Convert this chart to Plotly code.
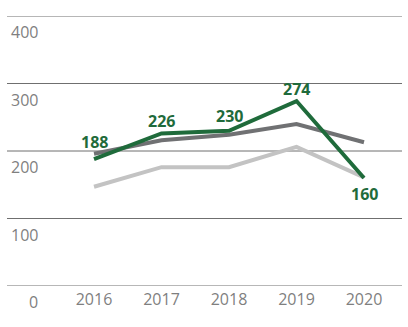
import plotly.graph_objects as go

years = [2016, 2017, 2018, 2019, 2020]
green_vals = [188, 226, 230, 274, 160]
dark_vals = [196, 216, 224, 240, 213]
light_vals = [147, 176, 176, 206, 161]
green_labels = ["188", "226", "230", "274", "160"]
y_ticks = [0, 100, 200, 300, 400]
y_tick_labels = ["0", "100", "200", "300", "400"]

GREEN = "#1f6b3b"
DARK = "#707173"
LIGHT = "#c3c3c3"
TXT = "#7f7f7f"

fig = go.Figure()
fig.add_trace(go.Scatter(x=years, y=light_vals, mode="lines",
                         line=dict(color=LIGHT, width=4), hoverinfo="skip"))
fig.add_trace(go.Scatter(x=years, y=dark_vals, mode="lines",
                         line=dict(color=DARK, width=4), hoverinfo="skip"))
fig.add_trace(go.Scatter(x=years, y=green_vals, mode="lines",
                         line=dict(color=GREEN, width=4), hoverinfo="skip"))

# data labels
label_shifts = [17, 12, 15, 12, -16]
for x, v, t, s in zip(years, green_vals, green_labels, label_shifts):
    fig.add_annotation(x=x, y=v, text="<b>%s</b>" % t, showarrow=False,
                       yshift=s,
                       font=dict(family="Open Sans", size=16, color=GREEN))

plot_w = 408 - 7 - 6
# gridlines
for v in y_ticks:
    fig.add_shape(type="line", xref="paper", yref="y", x0=0, x1=1, y0=v, y1=v,
                  line=dict(color="#6f6f6f", width=1), layer="below")

# y tick labels below gridlines, right-aligned
for v, t in zip(y_ticks, y_tick_labels):
    fig.add_annotation(x=(40 - 7) / plot_w, xref="paper", y=v, yref="y", text=t,
                       showarrow=False, xanchor="right", yanchor="top",
                       yshift=-3,
                       font=dict(family="Open Sans", size=16, color=TXT))

fig.update_layout(
    width=408, height=327,
    margin=dict(l=7, r=6, t=16, b=41),
    paper_bgcolor="white", plot_bgcolor="white",
    showlegend=False,
    xaxis=dict(range=[2014.711, 2020.563], tickmode="array", tickvals=years,
               ticktext=[str(y) for y in years], showgrid=False,
               zeroline=False, showline=False, ticks="", ticklabelstandoff=2,
               tickfont=dict(family="Open Sans", size=16, color=TXT)),
    yaxis=dict(range=[0, 400], tickvals=y_ticks, showticklabels=False,
               showgrid=False, zeroline=False, showline=False, ticks=""),
)

fig.write_html("out.html")
